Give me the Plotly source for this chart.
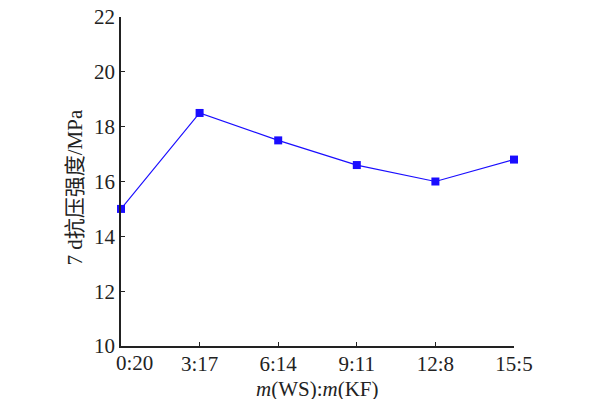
import plotly.graph_objects as go

categories = ["0:20", "3:17", "6:14", "9:11", "12:8", "15:5"]
strength = [15.0, 18.5, 17.5, 16.6, 16.0, 16.8]
y_ticks = [10, 12, 14, 16, 18, 20, 22]

x_idx = list(range(len(categories)))
# first category label is drawn nudged right (as in the original) via an annotation
tick_text = [""] + categories[1:]

fig = go.Figure()
fig.add_trace(go.Scatter(
    x=x_idx, y=strength, mode="lines+markers",
    line=dict(color="#1a0dff", width=1.2),
    marker=dict(symbol="square", size=8, color="#1a0dff"),
    cliponaxis=False,
))

font_serif = "Liberation Serif, Times New Roman, serif"

fig.update_layout(
    width=596, height=399,
    margin=dict(l=113, r=90, t=9, b=61),
    paper_bgcolor="white", plot_bgcolor="white",
    showlegend=False,
    font=dict(family=font_serif, size=21, color="#222"),
    xaxis=dict(
        range=[0, 5], tickmode="array", tickvals=x_idx, ticktext=tick_text,
        showline=True, linecolor="#222", linewidth=1.5,
        ticks="inside", ticklen=4, tickcolor="#222", tickwidth=1.2,
        showgrid=False, zeroline=False, automargin=False,
        tickfont=dict(family=font_serif, size=21),
        ticklabelstandoff=-2, ticklabeloverflow="allow",
    ),
    yaxis=dict(
        range=[10, 22], tickmode="array", tickvals=y_ticks,
        showline=True, linecolor="#222", linewidth=1.5,
        ticks="inside", ticklen=4, tickcolor="#222", tickwidth=1.2,
        showgrid=False, zeroline=False, automargin=False,
        tickfont=dict(family=font_serif, size=21),
        ticklabeloverflow="allow",
    ),
    annotations=[
        dict(text=categories[0], xref="x", yref="paper",
             x=x_idx[0], y=0, xanchor="center", yanchor="middle",
             xshift=13, yshift=-17, showarrow=False,
             font=dict(family=font_serif, size=21, color="#222")),
        dict(text="<i>m</i>(WS):<i>m</i>(KF)", xref="paper", yref="paper",
             x=0.5, y=0, xanchor="center", yanchor="middle", yshift=-43,
             showarrow=False, font=dict(family=font_serif, size=21, color="#222")),
        dict(text="7 d抗压强度/MPa", xref="paper", yref="paper",
             x=0, y=0.5, xanchor="center", yanchor="middle", xshift=-47, yshift=-6,
             textangle=-90, showarrow=False,
             font=dict(family="Liberation Serif, Noto Sans CJK SC", size=21, color="#222")),
    ],
)

fig.write_html("out.html")
